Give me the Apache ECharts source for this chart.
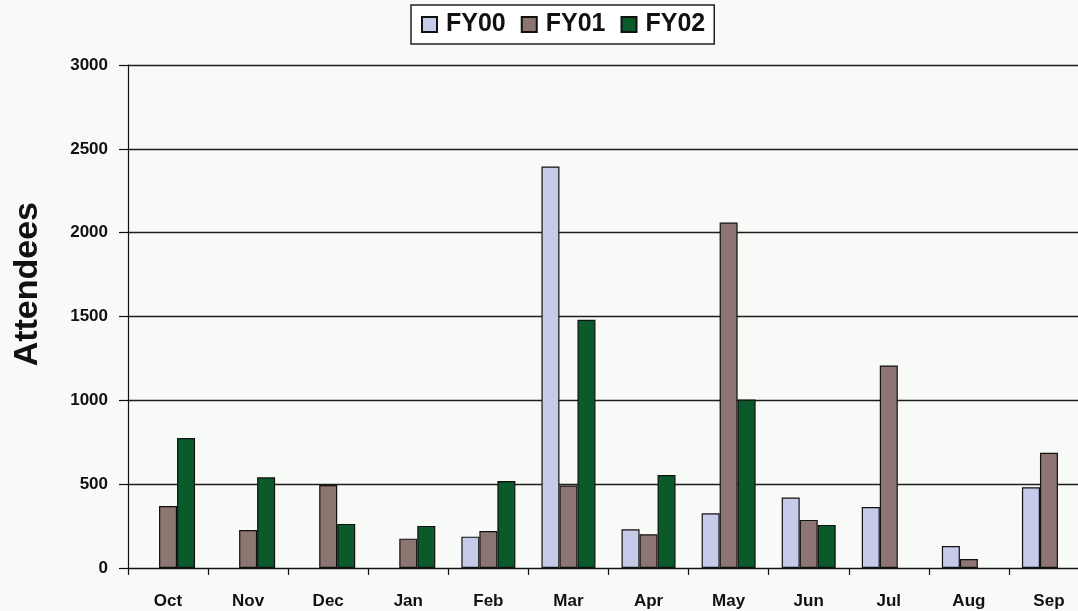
<!DOCTYPE html>
<html>
<head>
<meta charset="utf-8">
<title>Attendees by month</title>
<script src="https://cdn.jsdelivr.net/npm/echarts@6/dist/echarts.min.js"></script>
<style>
  html, body { margin: 0; padding: 0; background: #f7faf6; overflow: hidden; }
  /* the plot runs slightly past the right edge of the window */
  #chart { width: 1090px; height: 611px; }
</style>
</head>
<body>
<div id="chart"></div>
<script>
// Monthly attendees per fiscal year (null = no bar for that month)
const months = ['Oct', 'Nov', 'Dec', 'Jan', 'Feb', 'Mar', 'Apr', 'May', 'Jun', 'Jul', 'Aug', 'Sep'];
const fy00 = [null, null, null, null, 187, 2395, 231, 326, 420, 364, 131, 482];
const fy01 = [370, 227, 495, 175, 221, 492, 201, 2060, 287, 1208, 54, 687];
const fy02 = [775, 541, 263, 251, 519, 1480, 555, 1005, 257, null, null, null];
const seriesNames = ['FY00', 'FY01', 'FY02'];
const seriesColors = ['#c7cbea', '#8d7571', '#0b5a2b'];
const yTicks = [0, 500, 1000, 1500, 2000, 2500, 3000];

const FONT = '"Liberation Sans", Arial, sans-serif';

const chart = echarts.init(document.getElementById('chart'), null, { renderer: 'canvas' });

function barSeries(name, data, color) {
  return {
    name: name,
    type: 'bar',
    data: data,
    barWidth: 18,
    barGap: '0%',
    itemStyle: { color: color, borderColor: '#111111', borderWidth: 1.2 },
    emphasis: { disabled: true }
  };
}

chart.setOption({
  backgroundColor: '#f7faf6',
  animation: false,
  legend: {
    data: seriesNames,
    left: 411,
    top: 5,
    orient: 'horizontal',
    padding: [7, 9, 7, 10],
    itemWidth: 15,
    itemHeight: 15,
    itemGap: 15,
    icon: 'rect',
    backgroundColor: '#ffffff',
    borderColor: '#222222',
    borderWidth: 1.5,
    textStyle: {
      fontFamily: FONT,
      fontWeight: 'bold',
      fontSize: 25,
      color: '#111111',
      padding: [0, 0, 0, 4]
    }
  },
  grid: { left: 128, top: 65, width: 961, height: 503, containLabel: false },
  xAxis: {
    type: 'category',
    data: months,
    boundaryGap: true,
    axisLine: { show: true, lineStyle: { color: '#111111', width: 1.2 } },
    axisTick: { show: true, length: 7, inside: false, lineStyle: { color: '#111111', width: 1.2 } },
    axisLabel: {
      fontFamily: FONT,
      fontWeight: 'bold',
      fontSize: 17,
      color: '#111111',
      margin: 25
    },
    splitLine: { show: false }
  },
  yAxis: {
    type: 'value',
    min: yTicks[0],
    max: yTicks[yTicks.length - 1],
    interval: 500,
    axisLine: { show: true, lineStyle: { color: '#111111', width: 1.2 } },
    axisTick: { show: true, length: 9, lineStyle: { color: '#111111', width: 1.2 } },
    axisLabel: {
      fontFamily: FONT,
      fontWeight: 'bold',
      fontSize: 17,
      color: '#111111',
      margin: 20,
      formatter: function (v) { return String(v); }
    },
    splitLine: { show: true, lineStyle: { color: '#1e1e1e', width: 1.3 } }
  },
  graphic: [{
    type: 'text',
    left: 11,
    top: 202,
    rotation: Math.PI / 2,
    style: {
      text: 'Attendees',
      font: 'bold 34px "Liberation Sans", Arial, sans-serif',
      fill: '#111111'
    }
  }],
  series: [
    barSeries(seriesNames[0], fy00, seriesColors[0]),
    barSeries(seriesNames[1], fy01, seriesColors[1]),
    barSeries(seriesNames[2], fy02, seriesColors[2])
  ]
});
</script>
</body>
</html>
